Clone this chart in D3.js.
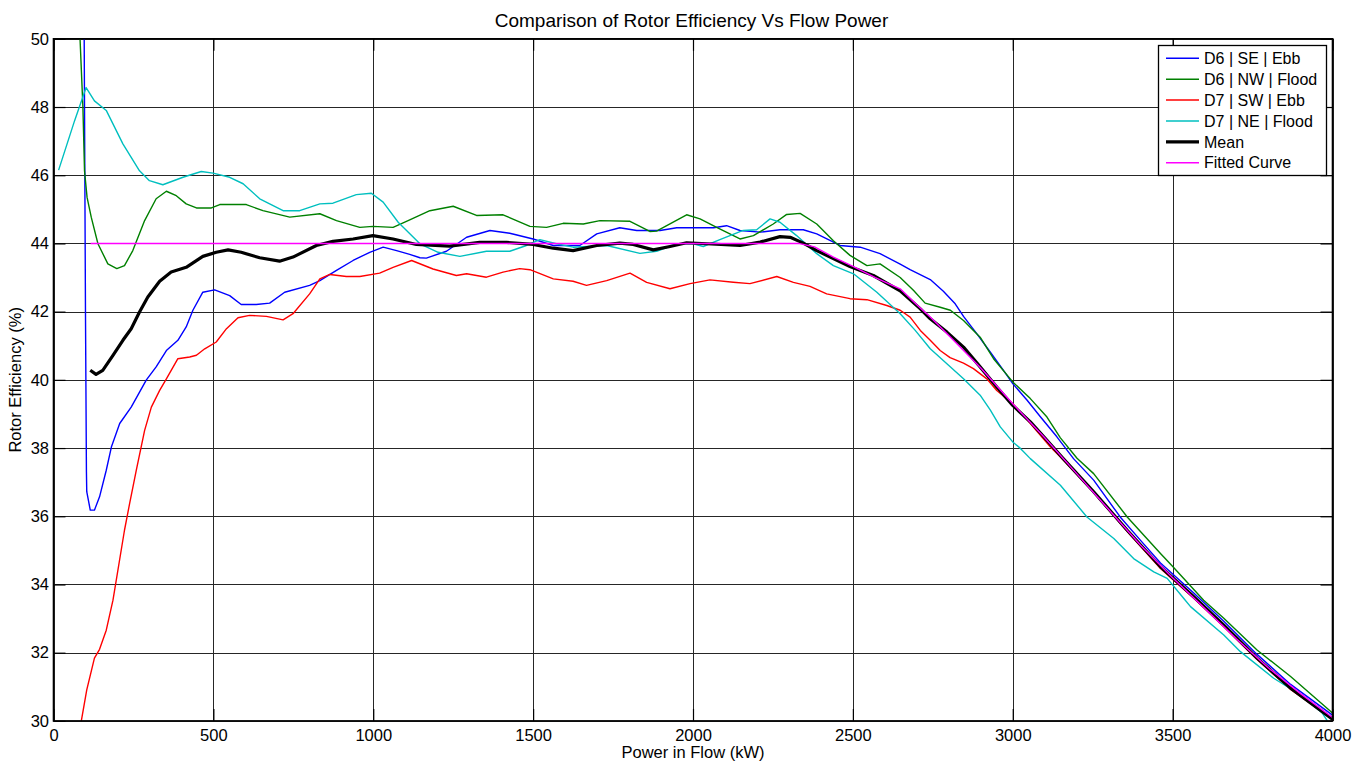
<!DOCTYPE html>
<html>
<head>
<meta charset="utf-8">
<script src="https://cdn.jsdelivr.net/npm/d3@7"></script>
<style>
  html, body { margin: 0; padding: 0; background: #fff; }
  text { font-family: "Liberation Sans", Arial, sans-serif; fill: #000; }
</style>
</head>
<body>
<svg id="chart" width="1365" height="764"></svg>
<script>
// ---------- data (x = power in flow kW, y = rotor efficiency %) ----------
const titleText = "Comparison of Rotor Efficiency Vs Flow Power";
const xLabel = "Power in Flow (kW)";
const yLabel = "Rotor Efficiency (%)";
const xTicks = [0, 500, 1000, 1500, 2000, 2500, 3000, 3500, 4000];
const yTicks = [30, 32, 34, 36, 38, 40, 42, 44, 46, 48, 50];
const seriesNames = ["D6 | SE | Ebb", "D6 | NW | Flood", "D7 | SW | Ebb", "D7 | NE | Flood", "Mean", "Fitted Curve"];

const d6SeEbb = [[96,50],[100,42],[103,37.3],[104,36.72],[115,36.18],[128,36.18],[144,36.57],[165,37.35],[181,38.03],[207,38.72],[243,39.2],[290,39.99],[321,40.38],[353,40.86],[389,41.16],[415,41.55],[436,42.04],[467,42.57],[504,42.64],[551,42.47],[587,42.21],[634,42.21],[676,42.25],[723,42.57],[801,42.77],[833,42.91],[885,43.21],[937,43.5],[989,43.74],[1031,43.89],[1073,43.79],[1114,43.68],[1146,43.58],[1166,43.57],[1229,43.77],[1292,44.18],[1365,44.38],[1427,44.3],[1500,44.13],[1563,43.94],[1646,43.94],[1699,44.28],[1771,44.46],[1824,44.38],[1897,44.38],[1949,44.46],[2064,44.46],[2105,44.52],[2147,44.38],[2210,44.33],[2272,44.4],[2345,44.4],[2387,44.28],[2460,43.94],[2523,43.89],[2585,43.7],[2648,43.39],[2679,43.23],[2742,42.94],[2783,42.6],[2820,42.23],[2846,41.86],[2888,41.35],[2930,40.81],[2971,40.28],[3000,39.89],[3045,39.4],[3087,38.91],[3138,38.33],[3190,37.69],[3253,37.06],[3336,35.98],[3399,35.3],[3462,34.63],[3566,33.75],[3660,32.92],[3764,31.95],[3869,31.07],[4000,30.17]];

const d6NwFlood = [[83,50],[92,47.99],[97,46.13],[105,45.35],[118,44.77],[139,43.99],[170,43.4],[198,43.26],[222,43.35],[248,43.79],[285,44.67],[321,45.31],[353,45.53],[384,45.4],[415,45.16],[447,45.04],[494,45.04],[520,45.14],[603,45.14],[655,44.96],[739,44.77],[833,44.87],[885,44.67],[958,44.47],[999,44.5],[1062,44.47],[1109,44.67],[1177,44.96],[1250,45.09],[1323,44.82],[1406,44.84],[1490,44.5],[1542,44.47],[1594,44.59],[1657,44.57],[1709,44.67],[1803,44.65],[1865,44.35],[1886,44.36],[1980,44.84],[2022,44.72],[2074,44.47],[2147,44.13],[2189,44.23],[2251,44.57],[2293,44.85],[2335,44.88],[2387,44.57],[2439,44.08],[2491,43.65],[2544,43.35],[2585,43.4],[2648,43.0],[2690,42.62],[2726,42.25],[2773,42.13],[2805,42.04],[2846,41.74],[2898,41.25],[2940,40.62],[3000,39.94],[3055,39.45],[3107,38.91],[3149,38.3],[3201,37.7],[3253,37.25],[3358,35.98],[3462,34.91],[3501,34.52],[3597,33.54],[3660,33.01],[3764,32.08],[3869,31.3],[4000,30.23]];

const d7SwEbb = [[87,30],[104,30.91],[128,31.84],[144,32.1],[165,32.66],[186,33.54],[222,35.59],[238,36.37],[259,37.35],[285,38.52],[306,39.2],[332,39.69],[353,40.03],[389,40.62],[426,40.67],[447,40.72],[473,40.91],[509,41.11],[541,41.5],[577,41.82],[613,41.89],[666,41.86],[718,41.76],[749,41.94],[801,42.52],[833,42.96],[864,43.09],[916,43.03],[958,43.03],[1020,43.13],[1062,43.3],[1120,43.5],[1187,43.25],[1260,43.06],[1292,43.11],[1354,43.01],[1406,43.16],[1458,43.26],[1490,43.23],[1563,42.96],[1625,42.89],[1667,42.77],[1730,42.91],[1803,43.13],[1855,42.86],[1928,42.67],[1991,42.82],[2053,42.93],[2126,42.86],[2178,42.82],[2262,43.03],[2314,42.86],[2366,42.74],[2418,42.52],[2491,42.38],[2544,42.35],[2606,42.18],[2648,42.04],[2679,41.84],[2711,41.45],[2742,41.16],[2773,40.86],[2804,40.65],[2846,40.49],[2877,40.33],[2919,40.03],[2950,39.69],[3000,39.3],[3055,38.72],[3118,38.03],[3149,37.74],[3253,36.7],[3358,35.55],[3462,34.47],[3566,33.6],[3660,32.76],[3764,31.8],[3869,30.92],[4000,30.05]];

const d7NeFlood = [[16,46.15],[66,47.6],[102,48.57],[128,48.18],[165,47.9],[217,46.92],[269,46.13],[300,45.84],[342,45.72],[405,45.94],[462,46.11],[499,46.06],[551,45.94],[593,45.75],[645,45.31],[718,44.96],[770,44.96],[833,45.16],[874,45.18],[947,45.43],[994,45.47],[1031,45.21],[1078,44.62],[1146,43.99],[1203,43.74],[1271,43.62],[1354,43.77],[1427,43.77],[1479,43.94],[1521,44.11],[1573,43.99],[1625,43.89],[1730,43.94],[1834,43.71],[1886,43.77],[1949,43.99],[2001,43.99],[2032,43.91],[2084,44.11],[2157,44.38],[2199,44.4],[2241,44.72],[2272,44.62],[2324,44.23],[2387,43.7],[2439,43.35],[2502,43.11],[2575,42.57],[2648,41.94],[2695,41.45],[2742,40.91],[2794,40.47],[2846,40.03],[2898,39.55],[2930,39.11],[2961,38.62],[3000,38.18],[3024,37.99],[3055,37.69],[3149,36.91],[3232,35.98],[3316,35.35],[3378,34.76],[3441,34.37],[3483,34.18],[3535,33.59],[3556,33.35],[3660,32.52],[3712,32.03],[3816,31.25],[3900,30.76],[3968,30.23],[3984,30.0]];

const meanCurve = [[115,40.28],[133,40.16],[154,40.28],[186,40.72],[217,41.16],[243,41.5],[269,41.99],[295,42.43],[332,42.89],[368,43.16],[415,43.3],[467,43.62],[509,43.74],[546,43.81],[587,43.74],[645,43.58],[707,43.48],[749,43.6],[822,43.94],[874,44.06],[937,44.13],[999,44.23],[1062,44.13],[1135,43.97],[1239,43.92],[1333,44.03],[1417,44.03],[1500,43.97],[1563,43.86],[1625,43.79],[1699,43.94],[1771,44.01],[1813,43.97],[1876,43.81],[1928,43.91],[1980,44.02],[2043,43.99],[2147,43.94],[2210,44.04],[2272,44.2],[2304,44.18],[2345,44.01],[2387,43.79],[2429,43.6],[2491,43.32],[2564,43.06],[2648,42.61],[2711,42.08],[2742,41.79],[2794,41.4],[2846,40.96],[2898,40.38],[2950,39.79],[3000,39.25],[3055,38.77],[3107,38.23],[3155,37.72],[3253,36.72],[3358,35.59],[3462,34.52],[3566,33.64],[3660,32.81],[3764,31.84],[3869,30.96],[4000,30.05]];

const fittedCurve = [[116,44],[2330,44],[2380,43.9],[2439,43.6],[2502,43.32],[2570,43.0],[2648,42.67],[2700,42.2],[2742,41.84],[2800,41.3],[2900,40.35],[3000,39.3],[3100,38.3],[3200,37.25],[3300,36.2],[3400,35.15],[3500,34.2],[3600,33.3],[3700,32.4],[3800,31.55],[3900,30.8],[4000,30.1]];

// ---------- drawing ----------
const W = 1365, H = 764;
const L = 53.5, R = 1332.5, T = 38.8, B = 720.9;
const svg = d3.select("#chart");
const x = d3.scaleLinear().domain([0, 4000]).range([L, R]);
const y = d3.scaleLinear().domain([30, 50]).range([B, T]);

const series = [
  { name: seriesNames[0], data: d6SeEbb,   color: "#0000ff", width: 1.4 },
  { name: seriesNames[1], data: d6NwFlood, color: "#008000", width: 1.4 },
  { name: seriesNames[2], data: d7SwEbb,   color: "#ff0000", width: 1.4 },
  { name: seriesNames[3], data: d7NeFlood, color: "#00bfbf", width: 1.4 },
  { name: seriesNames[4], data: meanCurve, color: "#000000", width: 3.2 },
  { name: seriesNames[5], data: fittedCurve, color: "#ff00ff", width: 1.4 }
];

// grid
const grid = svg.append("g");
grid.selectAll("line.vx").data(xTicks).join("line")
  .attr("x1", d => Math.round(x(d)) + 0.5).attr("x2", d => Math.round(x(d)) + 0.5)
  .attr("y1", T).attr("y2", B).attr("stroke", "#262626").attr("stroke-width", 1);
grid.selectAll("line.hy").data(yTicks).join("line")
  .attr("y1", d => Math.round(y(d)) + 0.5).attr("y2", d => Math.round(y(d)) + 0.5)
  .attr("x1", L).attr("x2", R).attr("stroke", "#262626").attr("stroke-width", 1);

// clip
svg.append("clipPath").attr("id", "clip").append("rect")
  .attr("x", L).attr("y", T).attr("width", R - L).attr("height", B - T);

const line = d3.line().x(d => x(d[0])).y(d => y(d[1]));
const plot = svg.append("g").attr("clip-path", "url(#clip)");
plot.selectAll("path").data(series).join("path")
  .attr("d", d => line(d.data))
  .attr("fill", "none")
  .attr("stroke", d => d.color)
  .attr("stroke-width", d => d.width)
  .attr("stroke-linejoin", "round");

// axes (MATLAB style: ticks inward, box)
const tickLen = 12;
const fmt = d3.format("d");
const xAxisB = d3.axisBottom(x).tickValues(xTicks).tickFormat(fmt).tickSizeInner(-tickLen).tickSizeOuter(0).tickPadding(8);
const gxb = svg.append("g").attr("transform", `translate(0,${B})`).call(xAxisB);
const xAxisT = d3.axisTop(x).tickValues(xTicks).tickSizeInner(-tickLen).tickSizeOuter(0).tickFormat("");
const gxt = svg.append("g").attr("transform", `translate(0,${T})`).call(xAxisT);
const yAxisL = d3.axisLeft(y).tickValues(yTicks).tickFormat(fmt).tickSizeInner(-tickLen).tickSizeOuter(0).tickPadding(4.5);
const gyl = svg.append("g").attr("transform", `translate(${L},0)`).call(yAxisL);
const yAxisR = d3.axisRight(y).tickValues(yTicks).tickSizeInner(-tickLen).tickSizeOuter(0).tickFormat("");
const gyr = svg.append("g").attr("transform", `translate(${R},0)`).call(yAxisR);
[gxb, gxt, gyl, gyr].forEach(g => {
  g.select(".domain").remove();
  g.selectAll(".tick line").attr("stroke", "#000").attr("stroke-width", 1.2);
  g.selectAll("text").attr("font-size", 16.5).attr("font-family", "Liberation Sans, Arial, sans-serif").attr("fill", "#000");
});
svg.append("rect").attr("x", L).attr("y", T).attr("width", R - L).attr("height", B - T)
  .attr("fill", "none").attr("stroke", "#000").attr("stroke-width", 1.6);

// titles
svg.append("text").attr("x", 691.5).attr("y", 27).attr("text-anchor", "middle")
  .attr("font-size", 19).text(titleText);
svg.append("text").attr("x", 693).attr("y", 758).attr("text-anchor", "middle")
  .attr("font-size", 16.5).text(xLabel);
svg.append("text").attr("transform", `translate(21,${(T + B) / 2}) rotate(-90)`).attr("text-anchor", "middle")
  .attr("font-size", 16.5).text(yLabel);

// legend
const lg = svg.append("g");
const lgX = 1158.5, lgY = 45.5, lgW = 168, lgH = 130;
lg.append("rect").attr("x", lgX).attr("y", lgY).attr("width", lgW).attr("height", lgH)
  .attr("fill", "#fff").attr("stroke", "#000").attr("stroke-width", 1.3);
const rowY = d3.scaleLinear().domain([0, 5]).range([58.3, 162.7]);
const rows = lg.selectAll("g.row").data(series).join("g").attr("class", "row")
  .attr("transform", (d, i) => `translate(0,${rowY(i)})`);
rows.append("line").attr("x1", 1166).attr("x2", 1199).attr("y1", 0).attr("y2", 0)
  .attr("stroke", d => d.color).attr("stroke-width", d => d.width);
rows.append("text").attr("x", 1204).attr("y", 0).attr("dy", "0.36em")
  .attr("font-size", 16).text(d => d.name);
</script>
</body>
</html>
